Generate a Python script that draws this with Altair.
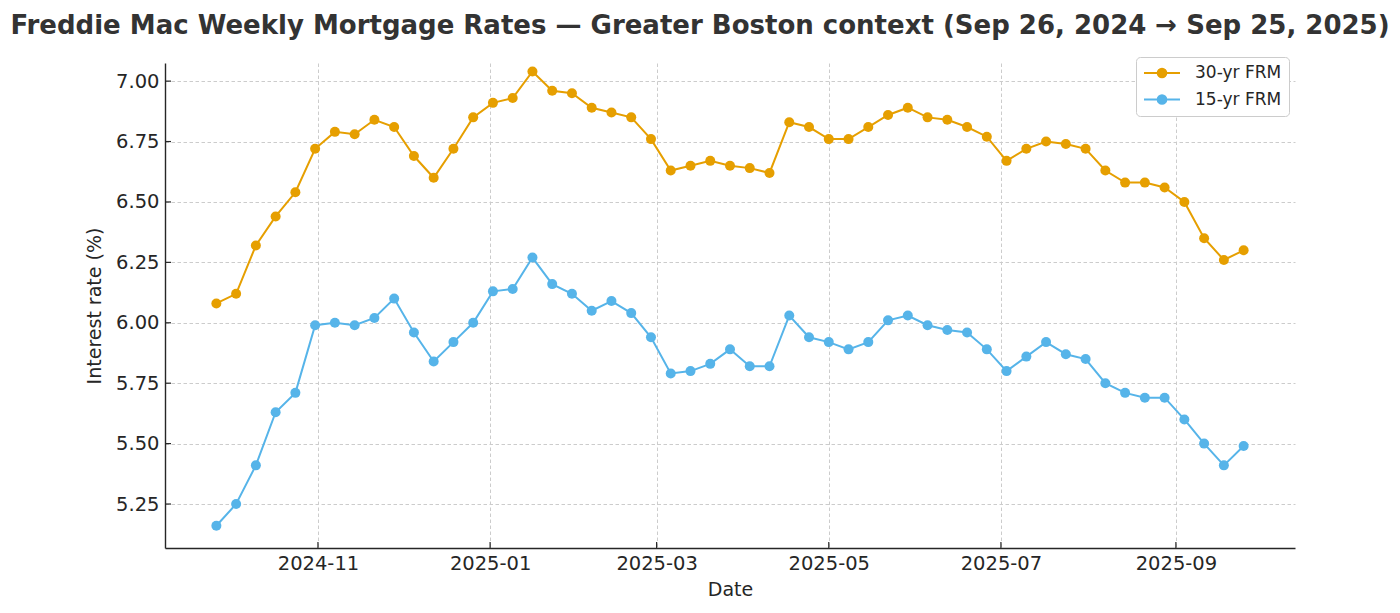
import altair as alt
import pandas as pd

dates = [
    "2024-09-26", "2024-10-03", "2024-10-10", "2024-10-17", "2024-10-24", "2024-10-31",
    "2024-11-07", "2024-11-14", "2024-11-21", "2024-11-28", "2024-12-05", "2024-12-12",
    "2024-12-19", "2024-12-26", "2025-01-02", "2025-01-09", "2025-01-16", "2025-01-23",
    "2025-01-30", "2025-02-06", "2025-02-13", "2025-02-20", "2025-02-27", "2025-03-06",
    "2025-03-13", "2025-03-20", "2025-03-27", "2025-04-03", "2025-04-10", "2025-04-17",
    "2025-04-24", "2025-05-01", "2025-05-08", "2025-05-15", "2025-05-22", "2025-05-29",
    "2025-06-05", "2025-06-12", "2025-06-19", "2025-06-26", "2025-07-03", "2025-07-10",
    "2025-07-17", "2025-07-24", "2025-07-31", "2025-08-07", "2025-08-14", "2025-08-21",
    "2025-08-28", "2025-09-04", "2025-09-11", "2025-09-18", "2025-09-25",
]
rate_30 = [
    6.08, 6.12, 6.32, 6.44, 6.54, 6.72, 6.79, 6.78, 6.84, 6.81, 6.69, 6.60,
    6.72, 6.85, 6.91, 6.93, 7.04, 6.96, 6.95, 6.89, 6.87, 6.85, 6.76, 6.63,
    6.65, 6.67, 6.65, 6.64, 6.62, 6.83, 6.81, 6.76, 6.76, 6.81, 6.86, 6.89,
    6.85, 6.84, 6.81, 6.77, 6.67, 6.72, 6.75, 6.74, 6.72, 6.63, 6.58, 6.58,
    6.56, 6.50, 6.35, 6.26, 6.30,
]
rate_15 = [
    5.16, 5.25, 5.41, 5.63, 5.71, 5.99, 6.00, 5.99, 6.02, 6.10, 5.96, 5.84,
    5.92, 6.00, 6.13, 6.14, 6.27, 6.16, 6.12, 6.05, 6.09, 6.04, 5.94, 5.79,
    5.80, 5.83, 5.89, 5.82, 5.82, 6.03, 5.94, 5.92, 5.89, 5.92, 6.01, 6.03,
    5.99, 5.97, 5.96, 5.89, 5.80, 5.86, 5.92, 5.87, 5.85, 5.75, 5.71, 5.69,
    5.69, 5.60, 5.50, 5.41, 5.49,
]
series_names = ["30-yr FRM", "15-yr FRM"]
series_colors = ["#E69F00", "#56B4E9"]
x_tick_dates = ["2024-11-01", "2025-01-01", "2025-03-01", "2025-05-01", "2025-07-01", "2025-09-01"]
y_tick_values = [5.25, 5.50, 5.75, 6.00, 6.25, 6.50, 6.75, 7.00]

df = pd.DataFrame({
    "date": dates * 2,
    "rate": rate_30 + rate_15,
    "series": [series_names[0]] * len(dates) + [series_names[1]] * len(dates),
})
xt = pd.DataFrame({"date": x_tick_dates})
yt = pd.DataFrame({"rate": y_tick_values})

def ms(s):
    return int(pd.Timestamp(s, tz="UTC").value // 10**6)

W, H = 1130, 485
xscale = alt.Scale(type="utc", domain=[ms("2024-09-07T19:12:00"), ms("2025-10-13T04:48:00")])
yscale = alt.Scale(domain=[5.068, 7.075], nice=False, zero=False)
FONT = "DejaVu Sans"
TXT = "#262626"

legend_path = ("M-1,0L1,0M0.24,0A0.24,0.24,0,1,1,-0.24,0A0.24,0.24,0,1,1,0.24,0Z")

lines = alt.Chart(df).mark_line(
    strokeWidth=2,
    point=alt.OverlayMarkDef(filled=True, size=100, opacity=1),
).encode(
    x=alt.X("date:T", scale=xscale, title="Date",
            axis=alt.Axis(values=[ms(d) for d in x_tick_dates], format="%Y-%m")),
    y=alt.Y("rate:Q", scale=yscale, title="Interest rate (%)",
            axis=alt.Axis(values=y_tick_values, format=".2f")),
    color=alt.Color(
        "series:N",
        scale=alt.Scale(domain=series_names, range=series_colors),
        legend=alt.Legend(
            title=None, orient="none", legendX=971, legendY=-6,
            symbolType=legend_path, symbolSize=1296, symbolStrokeWidth=2,
            symbolOpacity=1, clipHeight=18,
            labelFont=FONT, labelFontSize=17, labelColor=TXT, labelOffset=14,
            fillColor="white", strokeColor="#cccccc", cornerRadius=4,
            padding=7, rowPadding=8.5,
        ),
    ),
    order=alt.Order("date:T"),
)

xticks = alt.Chart(xt).mark_rule(color=TXT, strokeWidth=1.2).encode(
    x=alt.X("date:T", scale=xscale, title="Date"),
    y=alt.value(H - 6), y2=alt.value(H),
)
yticks = alt.Chart(yt).mark_rule(color=TXT, strokeWidth=1.2).encode(
    y=alt.Y("rate:Q", scale=yscale, title="Interest rate (%)"),
    x=alt.value(0), x2=alt.value(6),
)

chart = alt.layer(lines, xticks, yticks).properties(
    width=W, height=H,
    autosize=alt.AutoSizeParams(type="none"),
    padding={"left": 157, "top": 55, "right": 97, "bottom": 65},
    title=alt.TitleParams(
        text="Freddie Mac Weekly Mortgage Rates — Greater Boston context (Sep 26, 2024 → Sep 25, 2025)",
        font=FONT, fontSize=26, fontWeight="bold", color="#333333",
        anchor="middle", dx=-30, dy=33, offset=30, baseline="alphabetic",
    ),
).configure_view(stroke=None).configure_axis(
    domainColor=TXT, domainWidth=1.4, ticks=False,
    grid=True, gridColor="#cccccc", gridDash=[3.5, 2.5], gridWidth=1,
    labelFont=FONT, labelFontSize=19.5, labelColor=TXT, labelPadding=6,
    titleFont=FONT, titleFontSize=19, titleFontWeight="normal", titleColor=TXT,
).configure_axisX(titlePadding=8).configure_axisY(titlePadding=11)

chart.save("out.html", embed_options={"renderer": "svg", "actions": False})
